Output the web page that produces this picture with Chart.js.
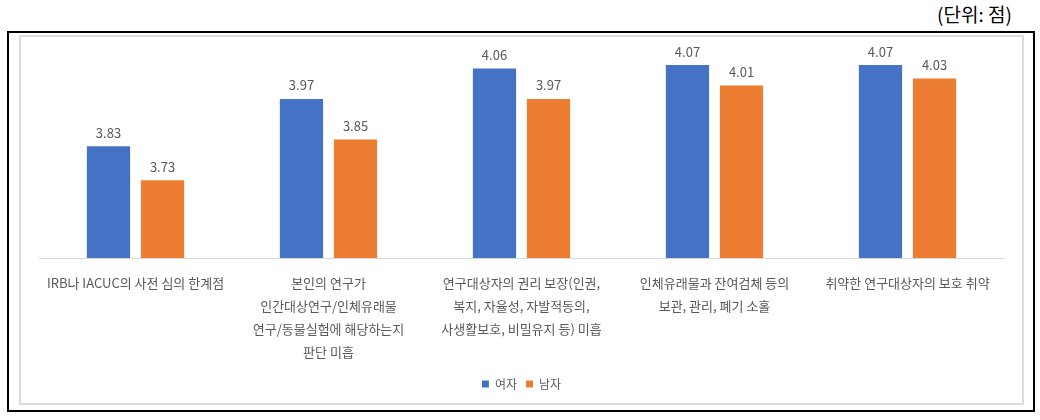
<!DOCTYPE html>
<html>
<head>
<meta charset="utf-8">
<script src="https://cdn.jsdelivr.net/npm/chart.js@4/dist/chart.umd.min.js"></script>
<style>
  body { margin: 0; background: #fff; font-family: "Noto Sans CJK KR", sans-serif; }
  #unit { position: absolute; left: 937px; top: 0px; font-size: 19px; color: #000; }
  #frame { position: absolute; left: 7px; top: 31px; width: 1024px; height: 377px; border: 2px solid #000; }
  #box { position: absolute; left: 10px; top: 2px; width: 1001px; height: 366px; border: 2px solid #dcdcdc; }
</style>
</head>
<body>
<div id="unit">(단위: 점)</div>
<div id="frame">
  <div id="box"><canvas id="barChart" width="1001" height="366"></canvas></div>
</div>
<script>
const categories = [
    "IRB나 IACUC의 사전 심의 한계점",
    ["본인의 연구가", "인간대상연구/인체유래물", "연구/동물실험에 해당하는지", "판단 미흡"],
    ["연구대상자의 권리 보장(인권,", "복지, 자율성, 자발적동의,", "사생활보호, 비밀유지 등) 미흡"],
    ["인체유래물과 잔여검체 등의", "보관, 관리, 폐기 소홀"],
    "취약한 연구대상자의 보호 취약"
];
const women = [3.83, 3.97, 4.06, 4.07, 4.07];
const men = [3.73, 3.85, 3.97, 4.01, 4.03];

const valueLabels = {
    id: "valueLabels",
    afterDatasetsDraw(chart) {
        const ctx = chart.ctx;
        ctx.save();
        ctx.font = "13px 'Noto Sans CJK KR', sans-serif";
        ctx.fillStyle = "#595959";
        ctx.textAlign = "center";
        ctx.textBaseline = "bottom";
        chart.data.datasets.forEach(function (ds, i) {
            chart.getDatasetMeta(i).data.forEach(function (bar, j) {
                ctx.fillText(ds.data[j].toFixed(2), bar.x, bar.y - 7);
            });
        });
        ctx.restore();
    }
};

document.addEventListener("DOMContentLoaded", function () {
    const ctx = document.getElementById("barChart").getContext("2d");
    new Chart(ctx, {
        type: "bar",
        data: {
            labels: categories,
            datasets: [{
                label: "여자",
                data: women,
                backgroundColor: "#4472C4",
                categoryPercentage: 0.56,
                barPercentage: 0.8
            }, {
                label: "남자",
                data: men,
                backgroundColor: "#ED7D31",
                categoryPercentage: 0.56,
                barPercentage: 0.8
            }]
        },
        options: {
            responsive: false,
            animation: false,
            layout: { padding: { left: 18, right: 18, top: 1, bottom: 3 } },
            scales: {
                x: {
                    grid: { display: false },
                    border: { display: true, color: "#d9d9d9", width: 1 },
                    ticks: {
                        autoSkip: false,
                        maxRotation: 0,
                        minRotation: 0,
                        padding: 6,
                        color: "#595959",
                        font: { family: "'Noto Sans CJK KR', sans-serif", size: 13, lineHeight: 1.75 }
                    }
                },
                y: {
                    display: false,
                    min: 3.5,
                    max: 4.15
                }
            },
            plugins: {
                legend: {
                    position: "bottom",
                    labels: {
                        boxWidth: 7,
                        boxHeight: 7,
                        padding: 9,
                        color: "#595959",
                        font: { family: "'Noto Sans CJK KR', sans-serif", size: 12 }
                    }
                },
                tooltip: { enabled: false }
            }
        },
        plugins: [valueLabels]
    });
});
</script>
</body>
</html>
